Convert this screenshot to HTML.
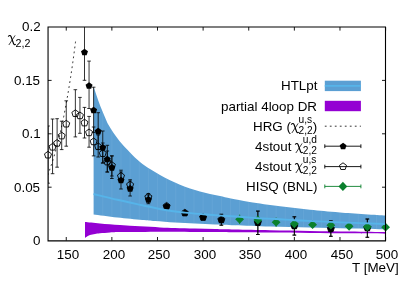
<!DOCTYPE html>
<html><head><meta charset="utf-8"><title>chart</title>
<style>
html,body{margin:0;padding:0;background:#fff;}
#c{position:relative;width:402px;height:281px;overflow:hidden;background:#fff;font-family:"Liberation Sans",sans-serif;color:#000;}
.t{position:absolute;white-space:nowrap;line-height:1;will-change:transform;}
.x{display:inline-block;vertical-align:-2.6px;margin:0 0 0 -0.3px;overflow:visible;}
.sb{font-size:80%;position:relative;top:3.6px;}
.ss{display:inline-block;position:relative;width:1.40em;height:1em;font-size:76%;}
.su{position:absolute;left:0;top:-0.578em;}
.sl{position:absolute;left:0;top:0.536em;}
</style></head><body><div id="c">
<svg width="402" height="281" viewBox="0 0 402 281" style="position:absolute;left:0;top:0">
<defs><clipPath id="cp"><rect x="48" y="27" width="337.6" height="213.6"/></clipPath><clipPath id="bc"><path d="M93.60,86.50 C94.50,89.15 97.27,97.67 99.00,102.40 C100.73,107.13 102.35,111.03 104.00,114.90 C105.65,118.77 107.03,122.20 108.90,125.60 C110.77,129.00 113.12,132.35 115.20,135.30 C117.28,138.25 118.93,140.45 121.40,143.30 C123.87,146.15 126.90,149.28 130.00,152.40 C133.10,155.52 136.67,159.23 140.00,162.00 C143.33,164.77 146.67,166.85 150.00,169.00 C153.33,171.15 156.67,173.03 160.00,174.90 C163.33,176.77 166.67,178.57 170.00,180.20 C173.33,181.83 176.67,183.33 180.00,184.70 C183.33,186.07 186.67,187.28 190.00,188.40 C193.33,189.52 196.67,190.48 200.00,191.40 C203.33,192.32 206.67,193.12 210.00,193.90 C213.33,194.68 216.52,195.32 220.00,196.10 C223.48,196.88 225.97,197.62 230.90,198.60 C235.83,199.58 241.42,200.72 249.60,202.00 C257.78,203.28 269.93,205.00 280.00,206.30 C290.07,207.60 300.00,208.77 310.00,209.80 C320.00,210.83 327.40,211.53 340.00,212.50 C352.60,213.47 378.00,215.08 385.60,215.60 L385.60,229.30 C379.67,229.17 362.60,228.82 350.00,228.50 C337.40,228.18 323.33,227.73 310.00,227.40 C296.67,227.07 282.50,226.87 270.00,226.50 C257.50,226.13 244.17,225.55 235.00,225.20 C225.83,224.85 221.67,224.67 215.00,224.40 C208.33,224.13 201.67,223.92 195.00,223.60 C188.33,223.28 181.67,222.93 175.00,222.50 C168.33,222.07 160.45,221.43 155.00,221.00 C149.55,220.57 148.57,220.50 142.30,219.90 C136.03,219.30 125.52,218.32 117.40,217.40 C109.28,216.48 97.57,214.90 93.60,214.40 Z"/></clipPath></defs>
<rect width="402" height="281" fill="#fff"/>
<g clip-path="url(#cp)">
<path d="M93.60,86.50 C94.50,89.15 97.27,97.67 99.00,102.40 C100.73,107.13 102.35,111.03 104.00,114.90 C105.65,118.77 107.03,122.20 108.90,125.60 C110.77,129.00 113.12,132.35 115.20,135.30 C117.28,138.25 118.93,140.45 121.40,143.30 C123.87,146.15 126.90,149.28 130.00,152.40 C133.10,155.52 136.67,159.23 140.00,162.00 C143.33,164.77 146.67,166.85 150.00,169.00 C153.33,171.15 156.67,173.03 160.00,174.90 C163.33,176.77 166.67,178.57 170.00,180.20 C173.33,181.83 176.67,183.33 180.00,184.70 C183.33,186.07 186.67,187.28 190.00,188.40 C193.33,189.52 196.67,190.48 200.00,191.40 C203.33,192.32 206.67,193.12 210.00,193.90 C213.33,194.68 216.52,195.32 220.00,196.10 C223.48,196.88 225.97,197.62 230.90,198.60 C235.83,199.58 241.42,200.72 249.60,202.00 C257.78,203.28 269.93,205.00 280.00,206.30 C290.07,207.60 300.00,208.77 310.00,209.80 C320.00,210.83 327.40,211.53 340.00,212.50 C352.60,213.47 378.00,215.08 385.60,215.60 L385.60,229.30 C379.67,229.17 362.60,228.82 350.00,228.50 C337.40,228.18 323.33,227.73 310.00,227.40 C296.67,227.07 282.50,226.87 270.00,226.50 C257.50,226.13 244.17,225.55 235.00,225.20 C225.83,224.85 221.67,224.67 215.00,224.40 C208.33,224.13 201.67,223.92 195.00,223.60 C188.33,223.28 181.67,222.93 175.00,222.50 C168.33,222.07 160.45,221.43 155.00,221.00 C149.55,220.57 148.57,220.50 142.30,219.90 C136.03,219.30 125.52,218.32 117.40,217.40 C109.28,216.48 97.57,214.90 93.60,214.40 Z" fill="#5b9fd3"/>
<path d="M102.75,60 V235 M111.87,60 V235 M120.99,60 V235 M130.12,60 V235 M139.24,60 V235 M148.37,60 V235 M157.49,60 V235 M166.62,60 V235 M175.74,60 V235 M184.86,60 V235 M193.99,60 V235 M203.11,60 V235 M212.24,60 V235 M221.36,60 V235 M230.49,60 V235 M239.61,60 V235 M248.74,60 V235 M257.86,60 V235 M266.98,60 V235 M276.11,60 V235 M285.23,60 V235 M294.36,60 V235 M303.48,60 V235 M312.61,60 V235 M321.73,60 V235 M330.85,60 V235 M339.98,60 V235 M349.10,60 V235 M358.23,60 V235 M367.35,60 V235 M376.48,60 V235" stroke="#a5d0f0" stroke-width="0.5" opacity="0.25" fill="none" clip-path="url(#bc)"/>
<path d="M85.00,222.00 C87.50,222.23 94.17,222.90 100.00,223.40 C105.83,223.90 113.33,224.52 120.00,225.00 C126.67,225.48 133.33,225.90 140.00,226.30 C146.67,226.70 154.17,227.13 160.00,227.40 C165.83,227.67 169.17,227.72 175.00,227.90 C180.83,228.08 188.33,228.30 195.00,228.50 C201.67,228.70 208.33,228.92 215.00,229.10 C221.67,229.28 225.83,229.40 235.00,229.60 C244.17,229.80 257.50,230.08 270.00,230.30 C282.50,230.52 296.67,230.70 310.00,230.90 C323.33,231.10 337.40,231.30 350.00,231.50 C362.60,231.70 379.67,232.00 385.60,232.10 L385.60,233.70 C379.67,233.63 362.60,233.43 350.00,233.30 C337.40,233.17 323.33,233.03 310.00,232.90 C296.67,232.77 282.50,232.60 270.00,232.50 C257.50,232.40 244.17,232.37 235.00,232.30 C225.83,232.23 221.67,232.17 215.00,232.10 C208.33,232.03 201.67,231.97 195.00,231.90 C188.33,231.83 180.83,231.73 175.00,231.70 C169.17,231.67 165.83,231.67 160.00,231.70 C154.17,231.73 146.67,231.83 140.00,231.90 C133.33,231.97 125.00,232.00 120.00,232.10 C115.00,232.20 113.33,232.30 110.00,232.50 C106.67,232.70 102.50,233.07 100.00,233.30 C97.50,233.53 96.67,233.63 95.00,233.90 C93.33,234.17 91.33,234.48 90.00,234.90 C88.67,235.32 87.83,235.90 87.00,236.40 C86.17,236.90 85.33,237.65 85.00,237.90 Z" fill="#9400d3"/>
<path d="M75.56,41.58 C75.48,42.18 75.25,43.98 75.10,45.17 C74.95,46.36 74.80,47.53 74.64,48.70 C74.49,49.86 74.34,51.02 74.19,52.16 C74.03,53.31 73.88,54.44 73.73,55.56 C73.58,56.69 73.43,57.80 73.27,58.90 C73.12,60.00 72.97,61.10 72.82,62.18 C72.67,63.26 72.51,64.34 72.36,65.40 C72.21,66.46 72.06,67.52 71.91,68.56 C71.75,69.61 71.60,70.64 71.45,71.67 C71.30,72.69 71.15,73.71 70.99,74.72 C70.84,75.72 70.69,76.72 70.54,77.71 C70.39,78.70 70.23,79.68 70.08,80.65 C69.93,81.62 69.78,82.58 69.62,83.54 C69.47,84.49 69.32,85.43 69.17,86.37 C69.02,87.31 68.86,88.23 68.71,89.15 C68.56,90.07 68.41,90.98 68.26,91.89 C68.10,92.79 67.95,93.68 67.80,94.57 C67.65,95.46 67.50,96.33 67.34,97.21 C67.19,98.08 67.04,98.94 66.89,99.79 C66.74,100.65 66.58,101.49 66.43,102.33 C66.28,103.17 66.13,104.01 65.97,104.83 C65.82,105.65 65.67,106.47 65.52,107.28 C65.37,108.09 65.21,108.89 65.06,109.69 C64.91,110.48 64.76,111.27 64.61,112.05 C64.45,112.83 64.30,113.60 64.15,114.37 C64.00,115.13 63.85,115.89 63.69,116.65 C63.54,117.40 63.39,118.14 63.24,118.88 C63.09,119.62 62.93,120.35 62.78,121.08 C62.63,121.81 62.48,122.52 62.33,123.24 C62.17,123.95 62.02,124.66 61.87,125.35 C61.72,126.05 61.56,126.75 61.41,127.43 C61.26,128.12 61.11,128.80 60.96,129.48 C60.80,130.15 60.65,130.82 60.50,131.48 C60.35,132.14 60.20,132.80 60.04,133.45 C59.89,134.10 59.74,134.75 59.59,135.39 C59.44,136.02 59.28,136.66 59.13,137.28 C58.98,137.91 58.83,138.53 58.68,139.15 C58.52,139.76 58.37,140.37 58.22,140.98 C58.07,141.58 57.92,142.18 57.76,142.78 C57.61,143.37 57.46,143.96 57.31,144.54 C57.15,145.13 57.00,145.70 56.85,146.28 C56.70,146.85 56.55,147.42 56.39,147.98 C56.24,148.54 56.09,149.10 55.94,149.65 C55.79,150.20 55.63,150.75 55.48,151.29 C55.33,151.83 55.18,152.37 55.03,152.90 C54.87,153.44 54.72,153.96 54.57,154.49 C54.42,155.01 54.27,155.53 54.11,156.04 C53.96,156.55 53.81,157.06 53.66,157.57 C53.51,158.07 53.35,158.57 53.20,159.06 C53.05,159.56 52.90,160.05 52.74,160.54 C52.59,161.02 52.44,161.50 52.29,161.98 C52.14,162.46 51.98,162.93 51.83,163.40 C51.68,163.87 51.53,164.33 51.38,164.79 C51.22,165.25 51.07,165.71 50.92,166.16 C50.77,166.61 50.62,167.06 50.46,167.50 C50.31,167.95 50.16,168.39 50.01,168.82 C49.86,169.26 49.70,169.69 49.55,170.12 C49.40,170.55 49.25,170.97 49.09,171.39 C48.94,171.81 48.79,172.23 48.64,172.64 C48.49,173.05 48.33,173.46 48.18,173.87 C48.03,174.27 47.80,174.87 47.73,175.07" fill="none" stroke="#000" stroke-width="0.8" stroke-dasharray="1.8,3.2"/>
<path d="M84.50,20.00 V80.30 M82.70,80.30 H86.30" stroke="#000" stroke-width="0.80" fill="none"/>
<path d="M89.06,61.10 V108.50 M87.26,61.10 H90.86 M87.26,108.50 H90.86" stroke="#000" stroke-width="0.80" fill="none"/>
<path d="M93.62,87.20 V132.40 M91.82,87.20 H95.42 M91.82,132.40 H95.42" stroke="#000" stroke-width="0.80" fill="none"/>
<path d="M98.18,112.70 V149.30 M96.38,112.70 H99.98 M96.38,149.30 H99.98" stroke="#000" stroke-width="0.80" fill="none"/>
<path d="M102.75,131.00 V163.00 M100.95,131.00 H104.55 M100.95,163.00 H104.55" stroke="#000" stroke-width="0.80" fill="none"/>
<path d="M107.31,145.30 V172.00 M105.51,145.30 H109.11 M105.51,172.00 H109.11" stroke="#000" stroke-width="0.80" fill="none"/>
<path d="M111.87,156.00 V178.50 M110.07,156.00 H113.67 M110.07,178.50 H113.67" stroke="#000" stroke-width="0.80" fill="none"/>
<path d="M120.99,172.00 V189.00 M119.19,172.00 H122.79 M119.19,189.00 H122.79" stroke="#000" stroke-width="0.80" fill="none"/>
<path d="M130.12,181.00 V196.00 M128.32,181.00 H131.92 M128.32,196.00 H131.92" stroke="#000" stroke-width="0.80" fill="none"/>
<path d="M148.37,195.00 V203.70 M146.57,195.00 H150.17 M146.57,203.70 H150.17" stroke="#000" stroke-width="0.80" fill="none"/>
<path d="M166.62,204.60 V208.00 M164.82,204.60 H168.42 M164.82,208.00 H168.42" stroke="#000" stroke-width="0.80" fill="none"/>
<path d="M184.86,211.70 V214.30 M183.06,211.70 H186.66 M183.06,214.30 H186.66" stroke="#000" stroke-width="0.80" fill="none"/>
<path d="M203.11,216.20 V218.60 M201.31,216.20 H204.91 M201.31,218.60 H204.91" stroke="#000" stroke-width="0.80" fill="none"/>
<path d="M221.36,214.30 V225.20 M219.56,214.30 H223.16 M219.56,225.20 H223.16" stroke="#000" stroke-width="0.80" fill="none"/>
<path d="M257.86,211.10 V234.50 M256.06,211.10 H259.66 M256.06,234.50 H259.66" stroke="#000" stroke-width="0.80" fill="none"/>
<path d="M294.36,216.80 V235.10 M292.56,216.80 H296.16 M292.56,235.10 H296.16" stroke="#000" stroke-width="0.80" fill="none"/>
<path d="M330.85,220.90 V236.30 M329.05,220.90 H332.65 M329.05,236.30 H332.65" stroke="#000" stroke-width="0.80" fill="none"/>
<path d="M367.35,219.00 V237.30 M365.55,219.00 H369.15 M365.55,237.30 H369.15" stroke="#000" stroke-width="0.80" fill="none"/>
</g>
<polygon points="84.50,48.75 87.97,51.27 86.64,55.35 82.35,55.35 81.03,51.27" fill="#000"/>
<polygon points="89.06,82.15 92.53,84.67 91.20,88.75 86.91,88.75 85.59,84.67" fill="#000"/>
<polygon points="93.62,106.65 97.09,109.17 95.77,113.25 91.48,113.25 90.15,109.17" fill="#000"/>
<polygon points="98.18,127.85 101.66,130.37 100.33,134.45 96.04,134.45 94.71,130.37" fill="#000"/>
<polygon points="102.75,144.05 106.22,146.57 104.89,150.65 100.60,150.65 99.27,146.57" fill="#000"/>
<polygon points="107.31,155.65 110.78,158.17 109.45,162.25 105.16,162.25 103.84,158.17" fill="#000"/>
<polygon points="111.87,164.05 115.34,166.57 114.02,170.65 109.72,170.65 108.40,166.57" fill="#000"/>
<polygon points="120.99,176.65 124.47,179.17 123.14,183.25 118.85,183.25 117.52,179.17" fill="#000"/>
<polygon points="130.12,185.05 133.59,187.57 132.26,191.65 127.97,191.65 126.65,187.57" fill="#000"/>
<polygon points="148.37,196.05 151.84,198.57 150.51,202.65 146.22,202.65 144.90,198.57" fill="#000"/>
<polygon points="166.62,202.75 170.09,205.27 168.76,209.35 164.47,209.35 163.14,205.27" fill="#000"/>
<polygon points="184.86,209.45 188.34,211.97 187.01,216.05 182.72,216.05 181.39,211.97" fill="#000"/>
<polygon points="203.11,213.85 206.58,216.37 205.26,220.45 200.97,220.45 199.64,216.37" fill="#000"/>
<polygon points="221.36,216.35 224.83,218.87 223.51,222.95 219.22,222.95 217.89,218.87" fill="#000"/>
<polygon points="257.86,219.05 261.33,221.57 260.00,225.65 255.71,225.65 254.39,221.57" fill="#000"/>
<polygon points="294.36,222.45 297.83,224.97 296.50,229.05 292.21,229.05 290.89,224.97" fill="#000"/>
<polygon points="330.85,225.35 334.33,227.87 333.00,231.95 328.71,231.95 327.38,227.87" fill="#000"/>
<polygon points="367.35,224.45 370.82,226.97 369.50,231.05 365.21,231.05 363.88,226.97" fill="#000"/>
<g clip-path="url(#cp)">
<path d="M48.00,126.00 V183.20 M46.20,126.00 H49.80 M46.20,183.20 H49.80" stroke="#000" stroke-width="0.80" fill="none"/>
<path d="M52.56,119.00 V173.70 M50.76,119.00 H54.36 M50.76,173.70 H54.36" stroke="#000" stroke-width="0.80" fill="none"/>
<path d="M57.12,118.70 V167.20 M55.32,118.70 H58.92 M55.32,167.20 H58.92" stroke="#000" stroke-width="0.80" fill="none"/>
<path d="M61.69,121.20 V149.60 M59.89,121.20 H63.49 M59.89,149.60 H63.49" stroke="#000" stroke-width="0.80" fill="none"/>
<path d="M66.25,100.80 V146.20 M64.45,100.80 H68.05 M64.45,146.20 H68.05" stroke="#000" stroke-width="0.80" fill="none"/>
<path d="M75.37,89.70 V136.90 M73.57,89.70 H77.17 M73.57,136.90 H77.17" stroke="#000" stroke-width="0.80" fill="none"/>
<path d="M79.94,97.40 V133.30 M78.14,97.40 H81.74 M78.14,133.30 H81.74" stroke="#000" stroke-width="0.80" fill="none"/>
<path d="M84.50,107.40 V138.00 M82.70,107.40 H86.30 M82.70,138.00 H86.30" stroke="#000" stroke-width="0.80" fill="none"/>
<path d="M89.06,116.40 V147.20 M87.26,116.40 H90.86 M87.26,147.20 H90.86" stroke="#000" stroke-width="0.80" fill="none"/>
<path d="M93.62,127.00 V155.90 M91.82,127.00 H95.42 M91.82,155.90 H95.42" stroke="#000" stroke-width="0.80" fill="none"/>
<path d="M98.18,135.00 V157.00 M96.38,135.00 H99.98 M96.38,157.00 H99.98" stroke="#000" stroke-width="0.80" fill="none"/>
<path d="M102.75,143.00 V163.00 M100.95,143.00 H104.55 M100.95,163.00 H104.55" stroke="#000" stroke-width="0.80" fill="none"/>
<path d="M107.31,151.00 V172.00 M105.51,151.00 H109.11 M105.51,172.00 H109.11" stroke="#000" stroke-width="0.80" fill="none"/>
<path d="M111.87,155.80 V176.00 M110.07,155.80 H113.67 M110.07,176.00 H113.67" stroke="#000" stroke-width="0.80" fill="none"/>
<path d="M120.99,170.20 V181.50 M119.19,170.20 H122.79 M119.19,181.50 H122.79" stroke="#000" stroke-width="0.80" fill="none"/>
<path d="M130.12,179.70 V189.30 M128.32,179.70 H131.92 M128.32,189.30 H131.92" stroke="#000" stroke-width="0.80" fill="none"/>
<path d="M148.37,193.50 V199.70 M146.57,193.50 H150.17 M146.57,199.70 H150.17" stroke="#000" stroke-width="0.80" fill="none"/>
<path d="M166.62,204.50 V207.70 M164.82,204.50 H168.42 M164.82,207.70 H168.42" stroke="#000" stroke-width="0.80" fill="none"/>
<path d="M184.86,211.70 V214.10 M183.06,211.70 H186.66 M183.06,214.10 H186.66" stroke="#000" stroke-width="0.80" fill="none"/>
<path d="M203.11,216.30 V218.30 M201.31,216.30 H204.91 M201.31,218.30 H204.91" stroke="#000" stroke-width="0.80" fill="none"/>
<path d="M221.36,214.30 V225.20 M219.56,214.30 H223.16 M219.56,225.20 H223.16" stroke="#000" stroke-width="0.80" fill="none"/>
<path d="M257.86,211.10 V234.50 M256.06,211.10 H259.66 M256.06,234.50 H259.66" stroke="#000" stroke-width="0.80" fill="none"/>
<path d="M294.36,216.80 V235.10 M292.56,216.80 H296.16 M292.56,235.10 H296.16" stroke="#000" stroke-width="0.80" fill="none"/>
<path d="M330.85,220.90 V236.30 M329.05,220.90 H332.65 M329.05,236.30 H332.65" stroke="#000" stroke-width="0.80" fill="none"/>
<path d="M367.35,219.00 V237.30 M365.55,219.00 H369.15 M365.55,237.30 H369.15" stroke="#000" stroke-width="0.80" fill="none"/>
</g>
<polygon points="48.00,151.30 51.52,153.86 50.17,157.99 45.83,157.99 44.48,153.86" fill="none" stroke="#000" stroke-width="0.9"/>
<polygon points="52.56,143.40 56.08,145.96 54.74,150.09 50.39,150.09 49.04,145.96" fill="none" stroke="#000" stroke-width="0.9"/>
<polygon points="57.12,139.50 60.64,142.06 59.30,146.19 54.95,146.19 53.61,142.06" fill="none" stroke="#000" stroke-width="0.9"/>
<polygon points="61.69,132.20 65.21,134.76 63.86,138.89 59.51,138.89 58.17,134.76" fill="none" stroke="#000" stroke-width="0.9"/>
<polygon points="66.25,120.30 69.77,122.86 68.42,126.99 64.07,126.99 62.73,122.86" fill="none" stroke="#000" stroke-width="0.9"/>
<polygon points="75.37,109.80 78.89,112.36 77.55,116.49 73.20,116.49 71.85,112.36" fill="none" stroke="#000" stroke-width="0.9"/>
<polygon points="79.94,112.00 83.45,114.56 82.11,118.69 77.76,118.69 76.42,114.56" fill="none" stroke="#000" stroke-width="0.9"/>
<polygon points="84.50,119.20 88.02,121.76 86.67,125.89 82.32,125.89 80.98,121.76" fill="none" stroke="#000" stroke-width="0.9"/>
<polygon points="89.06,129.00 92.58,131.56 91.23,135.69 86.88,135.69 85.54,131.56" fill="none" stroke="#000" stroke-width="0.9"/>
<polygon points="93.62,138.00 97.14,140.56 95.80,144.69 91.45,144.69 90.10,140.56" fill="none" stroke="#000" stroke-width="0.9"/>
<polygon points="98.18,142.90 101.70,145.46 100.36,149.59 96.01,149.59 94.66,145.46" fill="none" stroke="#000" stroke-width="0.9"/>
<polygon points="102.75,149.80 106.26,152.36 104.92,156.49 100.57,156.49 99.23,152.36" fill="none" stroke="#000" stroke-width="0.9"/>
<polygon points="107.31,158.20 110.83,160.76 109.48,164.89 105.13,164.89 103.79,160.76" fill="none" stroke="#000" stroke-width="0.9"/>
<polygon points="111.87,161.70 115.39,164.26 114.05,168.39 109.70,168.39 108.35,164.26" fill="none" stroke="#000" stroke-width="0.9"/>
<polygon points="120.99,172.50 124.51,175.06 123.17,179.19 118.82,179.19 117.48,175.06" fill="none" stroke="#000" stroke-width="0.9"/>
<polygon points="130.12,181.20 133.64,183.76 132.29,187.89 127.94,187.89 126.60,183.76" fill="none" stroke="#000" stroke-width="0.9"/>
<polygon points="148.37,193.30 151.89,195.86 150.54,199.99 146.19,199.99 144.85,195.86" fill="none" stroke="#000" stroke-width="0.9"/>
<polygon points="166.62,202.40 170.14,204.96 168.79,209.09 164.44,209.09 163.10,204.96" fill="none" stroke="#000" stroke-width="0.9"/>
<polygon points="184.86,209.20 188.38,211.76 187.04,215.89 182.69,215.89 181.35,211.76" fill="none" stroke="#000" stroke-width="0.9"/>
<polygon points="203.11,213.60 206.63,216.16 205.29,220.29 200.94,220.29 199.59,216.16" fill="none" stroke="#000" stroke-width="0.9"/>
<polygon points="221.36,216.00 224.88,218.56 223.54,222.69 219.19,222.69 217.84,218.56" fill="none" stroke="#000" stroke-width="0.9"/>
<polygon points="257.86,218.70 261.38,221.26 260.03,225.39 255.68,225.39 254.34,221.26" fill="none" stroke="#000" stroke-width="0.9"/>
<polygon points="294.36,222.10 297.88,224.66 296.53,228.79 292.18,228.79 290.84,224.66" fill="none" stroke="#000" stroke-width="0.9"/>
<polygon points="330.85,225.00 334.37,227.56 333.03,231.69 328.68,231.69 327.34,227.56" fill="none" stroke="#000" stroke-width="0.9"/>
<polygon points="367.35,224.10 370.87,226.66 369.53,230.79 365.18,230.79 363.83,226.66" fill="none" stroke="#000" stroke-width="0.9"/>
<path d="M239.61,214.50 V224.10 M239.61,214.50 H239.61 M239.61,224.10 H239.61" stroke="#0a802d" stroke-width="0.80" fill="none"/>
<polygon points="239.61,214.90 244.01,219.30 239.61,223.70 235.21,219.30" fill="#0a802d"/>
<path d="M257.86,216.50 V223.50 M257.86,216.50 H257.86 M257.86,223.50 H257.86" stroke="#0a802d" stroke-width="0.80" fill="none"/>
<polygon points="257.86,215.60 262.26,220.00 257.86,224.40 253.46,220.00" fill="#0a802d"/>
<path d="M276.11,217.50 V226.90 M276.11,217.50 H276.11 M276.11,226.90 H276.11" stroke="#0a802d" stroke-width="0.80" fill="none"/>
<polygon points="276.11,217.80 280.51,222.20 276.11,226.60 271.71,222.20" fill="#0a802d"/>
<path d="M294.36,222.80 V224.80 M294.36,222.80 H294.36 M294.36,224.80 H294.36" stroke="#0a802d" stroke-width="0.80" fill="none"/>
<polygon points="294.36,219.40 298.76,223.80 294.36,228.20 289.96,223.80" fill="#0a802d"/>
<path d="M312.61,223.70 V225.70 M312.61,223.70 H312.61 M312.61,225.70 H312.61" stroke="#0a802d" stroke-width="0.80" fill="none"/>
<polygon points="312.61,220.30 317.01,224.70 312.61,229.10 308.21,224.70" fill="#0a802d"/>
<path d="M330.85,224.20 V226.20 M330.85,224.20 H330.85 M330.85,226.20 H330.85" stroke="#0a802d" stroke-width="0.80" fill="none"/>
<polygon points="330.85,220.80 335.25,225.20 330.85,229.60 326.45,225.20" fill="#0a802d"/>
<path d="M349.10,225.30 V227.30 M349.10,225.30 H349.10 M349.10,227.30 H349.10" stroke="#0a802d" stroke-width="0.80" fill="none"/>
<polygon points="349.10,221.90 353.50,226.30 349.10,230.70 344.70,226.30" fill="#0a802d"/>
<path d="M367.35,225.80 V227.80 M367.35,225.80 H367.35 M367.35,227.80 H367.35" stroke="#0a802d" stroke-width="0.80" fill="none"/>
<polygon points="367.35,222.40 371.75,226.80 367.35,231.20 362.95,226.80" fill="#0a802d"/>
<path d="M385.60,226.20 V228.20 M385.60,226.20 H385.60 M385.60,228.20 H385.60" stroke="#0a802d" stroke-width="0.80" fill="none"/>
<polygon points="385.60,222.80 390.00,227.20 385.60,231.60 381.20,227.20" fill="#0a802d"/>
<g clip-path="url(#cp)">
<path d="M93.60,194.00 C97.57,194.97 109.28,197.93 117.40,199.80 C125.52,201.67 134.10,203.45 142.30,205.20 C150.50,206.95 159.48,209.07 166.60,210.30 C173.72,211.53 178.88,211.95 185.00,212.60 C191.12,213.25 197.25,213.70 203.30,214.20 C209.35,214.70 215.25,215.17 221.30,215.60 C227.35,216.03 233.52,216.37 239.60,216.80 C245.68,217.23 251.73,217.83 257.80,218.20 C263.87,218.57 269.90,218.67 276.00,219.00 C282.10,219.33 288.30,219.85 294.40,220.20 C300.50,220.55 305.00,220.73 312.60,221.10 C320.20,221.47 327.83,221.92 340.00,222.40 C352.17,222.88 378.00,223.73 385.60,224.00" fill="none" stroke="#56b4e9" stroke-width="1.9"/>
</g>
<rect x="324.8" y="80.7" width="36.1" height="10.4" fill="#5b9fd3"/>
<line x1="324.8" y1="85.9" x2="360.9" y2="85.9" stroke="#56b4e9" stroke-width="1.6"/>
<rect x="324.8" y="100.8" width="36.1" height="10.4" fill="#9400d3"/>
<line x1="324.8" y1="126.2" x2="360.9" y2="126.2" stroke="#000" stroke-width="0.8" stroke-dasharray="1.8,3.2"/>
<path d="M324.8,146.2 H360.9 M324.8,144.3 V148.1 M360.9,144.3 V148.1" stroke="#000" stroke-width="0.9" fill="none"/>
<path d="M324.8,166.6 H360.9 M324.8,164.7 V168.5 M360.9,164.7 V168.5" stroke="#000" stroke-width="0.9" fill="none"/>
<path d="M324.8,186.4 H360.9 M324.8,184.5 V188.3 M360.9,184.5 V188.3" stroke="#0a802d" stroke-width="0.9" fill="none"/>
<polygon points="343.10,142.80 346.52,145.29 345.22,149.31 340.98,149.31 339.68,145.29" fill="#000"/>
<polygon points="343.00,162.80 346.52,165.36 345.17,169.49 340.83,169.49 339.48,165.36" fill="none" stroke="#000" stroke-width="0.9"/>
<polygon points="342.90,181.80 347.30,186.40 342.90,191.00 338.50,186.40" fill="#0a802d"/>
<path d="M66.25,240.60 v-3.6 M66.25,27.00 v3.6 M111.87,240.60 v-3.6 M111.87,27.00 v3.6 M157.49,240.60 v-3.6 M157.49,27.00 v3.6 M203.11,240.60 v-3.6 M203.11,27.00 v3.6 M248.74,240.60 v-3.6 M248.74,27.00 v3.6 M294.36,240.60 v-3.6 M294.36,27.00 v3.6 M339.98,240.60 v-3.6 M339.98,27.00 v3.6 M385.60,240.60 v-3.6 M385.60,27.00 v3.6 M48.00,187.20 h3.6 M385.60,187.20 h-3.6 M48.00,133.80 h3.6 M385.60,133.80 h-3.6 M48.00,80.40 h3.6 M385.60,80.40 h-3.6" stroke="#000" stroke-width="0.9" fill="none"/>
<path d="M48.05,240.85 V27.0 H385.5 V240.85 Z" fill="none" stroke="#000" stroke-width="1.1"/>
</svg>
<div class="t" style="right:361.7px;top:234.0px;font-size:13.4px;">0</div>
<div class="t" style="right:361.7px;top:180.6px;font-size:13.4px;">0.05</div>
<div class="t" style="right:361.7px;top:127.2px;font-size:13.4px;">0.1</div>
<div class="t" style="right:361.7px;top:73.8px;font-size:13.4px;">0.15</div>
<div class="t" style="right:361.7px;top:20.4px;font-size:13.4px;">0.2</div>
<div class="t" style="left:67.9px;transform:translateX(-50%);top:247.9px;font-size:13.4px;">150</div>
<div class="t" style="left:113.6px;transform:translateX(-50%);top:247.9px;font-size:13.4px;">200</div>
<div class="t" style="left:159.2px;transform:translateX(-50%);top:247.9px;font-size:13.4px;">250</div>
<div class="t" style="left:204.8px;transform:translateX(-50%);top:247.9px;font-size:13.4px;">300</div>
<div class="t" style="left:250.4px;transform:translateX(-50%);top:247.9px;font-size:13.4px;">350</div>
<div class="t" style="left:296.1px;transform:translateX(-50%);top:247.9px;font-size:13.4px;">400</div>
<div class="t" style="left:341.7px;transform:translateX(-50%);top:247.9px;font-size:13.4px;">450</div>
<div class="t" style="left:387.3px;transform:translateX(-50%);top:247.9px;font-size:13.4px;">500</div>
<div class="t" style="right:3.1px;top:261.4px;font-size:13.4px;">T [MeV]</div>
<div class="t" style="left:7.6px;top:32.0px;font-size:13.4px;"><svg class="x" width="7.9" height="10.2" viewBox="0 0 7.4 10.6" preserveAspectRatio="none"><path d="M0.3,1.7 C0.7,0.3 2.3,0.1 2.9,1.7 L5.2,8.9 C5.7,10.4 6.6,10.5 7.1,9.4" fill="none" stroke="#000" stroke-width="1.15"/><path d="M6.7,0.4 L0.8,10.4" fill="none" stroke="#000" stroke-width="0.75"/></svg><span class="sb">2,2</span></div>
<div class="t" style="right:84.7px;top:79.2px;font-size:13.4px;">HTLpt</div>
<div class="t" style="right:84.7px;top:99.5px;font-size:13.4px;">partial 4loop DR</div>
<div class="t" style="right:84.7px;top:119.9px;font-size:13.4px;">HRG (<svg class="x" width="7.9" height="10.2" viewBox="0 0 7.4 10.6" preserveAspectRatio="none"><path d="M0.3,1.7 C0.7,0.3 2.3,0.1 2.9,1.7 L5.2,8.9 C5.7,10.4 6.6,10.5 7.1,9.4" fill="none" stroke="#000" stroke-width="1.15"/><path d="M6.7,0.4 L0.8,10.4" fill="none" stroke="#000" stroke-width="0.75"/></svg><span class="ss"><span class="su">u,s</span><span class="sl">2,2</span></span>)</div>
<div class="t" style="right:84.7px;top:140.1px;font-size:13.4px;">4stout <svg class="x" width="7.9" height="10.2" viewBox="0 0 7.4 10.6" preserveAspectRatio="none"><path d="M0.3,1.7 C0.7,0.3 2.3,0.1 2.9,1.7 L5.2,8.9 C5.7,10.4 6.6,10.5 7.1,9.4" fill="none" stroke="#000" stroke-width="1.15"/><path d="M6.7,0.4 L0.8,10.4" fill="none" stroke="#000" stroke-width="0.75"/></svg><span class="ss"><span class="su">u,d</span><span class="sl">2,2</span></span></div>
<div class="t" style="right:84.7px;top:160.3px;font-size:13.4px;">4stout <svg class="x" width="7.9" height="10.2" viewBox="0 0 7.4 10.6" preserveAspectRatio="none"><path d="M0.3,1.7 C0.7,0.3 2.3,0.1 2.9,1.7 L5.2,8.9 C5.7,10.4 6.6,10.5 7.1,9.4" fill="none" stroke="#000" stroke-width="1.15"/><path d="M6.7,0.4 L0.8,10.4" fill="none" stroke="#000" stroke-width="0.75"/></svg><span class="ss"><span class="su">u,s</span><span class="sl">2,2</span></span></div>
<div class="t" style="right:84.7px;top:180.1px;font-size:13.4px;">HISQ (BNL)</div>
</div></body></html>
